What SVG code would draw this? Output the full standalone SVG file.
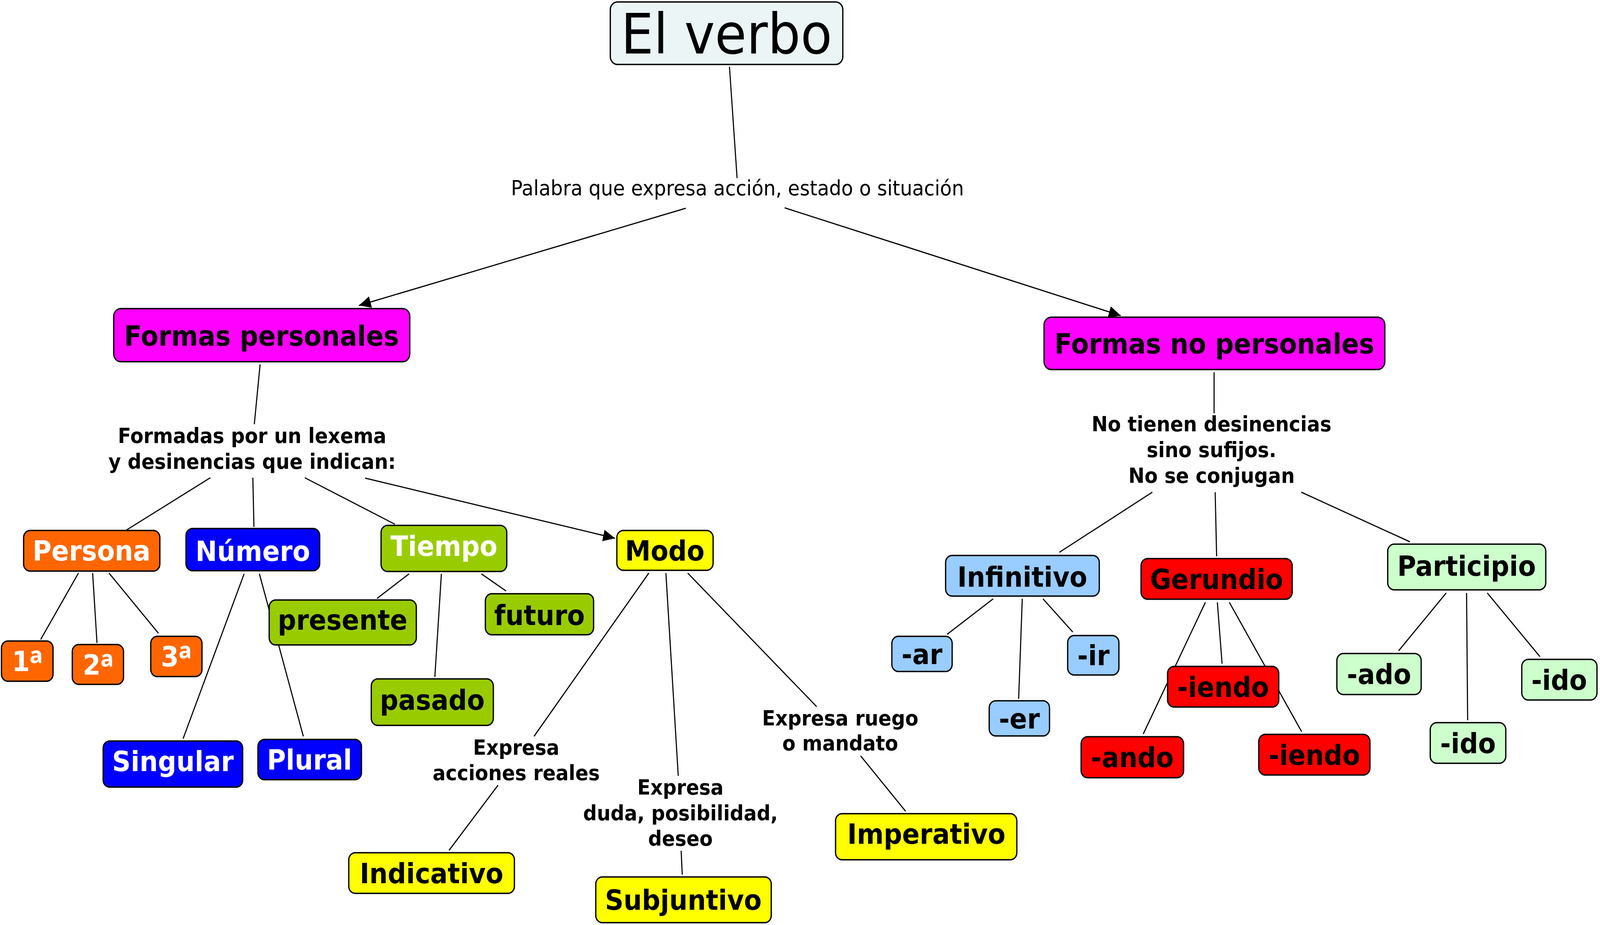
<svg xmlns="http://www.w3.org/2000/svg" width="4399" height="2368" viewBox="0 0 4399 2368">
<style>
.n rect{stroke:#000;stroke-width:3.5}
.t{font-family:"DejaVu Sans",Verdana,sans-serif;font-weight:bold;font-size:71px;text-anchor:middle}
.o{font-family:"Open Sans","Noto Sans","DejaVu Sans",sans-serif;font-weight:bold;font-size:92px}
.w{fill:#fff}
.k{fill:#000}
.lb{font-family:"DejaVu Sans",Verdana,sans-serif;font-weight:bold;font-size:53px;text-anchor:middle;fill:#000}
.lr{font-family:"DejaVu Sans",Verdana,sans-serif;font-size:53px;text-anchor:middle;fill:#000}
#connectors line{stroke:#000;stroke-width:3;fill:none}
.or{fill:#ff6600}.bl{fill:#0000ff}.gr{fill:#99cc00}.ye{fill:#ffff00}.mg{fill:#ff00ff}.lbu{fill:#99ccff}.rd{fill:#ff0000}.lg{fill:#ccffcc}
</style>
<defs>
<marker id="arr" markerUnits="userSpaceOnUse" markerWidth="34" markerHeight="32" refX="33" refY="15" orient="auto">
<path d="M0,0 L33,15 L0,30 Z" fill="#000"/>
</marker>
</defs>
<rect width="4399" height="2368" fill="#fff"/>
<g id="diagram" transform="matrix(0.93,0,0,1,0,0)">
<g id="connectors">
<line x1="2008" y1="171" x2="2029" y2="456"/>
<line x1="1888" y1="533" x2="988" y2="782" marker-end="url(#arr)"/>
<line x1="2160" y1="532" x2="3085" y2="808" marker-end="url(#arr)"/>
<line x1="716" y1="933" x2="700" y2="1086"/>
<line x1="579" y1="1223" x2="348" y2="1357"/>
<line x1="696" y1="1223" x2="699" y2="1349"/>
<line x1="839" y1="1223" x2="1087" y2="1342"/>
<line x1="1005" y1="1224" x2="1693" y2="1378" marker-end="url(#arr)"/>
<line x1="216" y1="1467" x2="112" y2="1637"/>
<line x1="255" y1="1467" x2="267" y2="1646"/>
<line x1="300" y1="1467" x2="436" y2="1621"/>
<line x1="672" y1="1469" x2="504" y2="1891"/>
<line x1="714" y1="1469" x2="835" y2="1885"/>
<line x1="1126" y1="1469" x2="1038" y2="1532"/>
<line x1="1215" y1="1469" x2="1197" y2="1733"/>
<line x1="1325" y1="1469" x2="1393" y2="1513"/>
<line x1="1786" y1="1467" x2="1470" y2="1885"/>
<line x1="1833" y1="1467" x2="1867" y2="1986"/>
<line x1="1893" y1="1467" x2="2248" y2="1809"/>
<line x1="1371" y1="2010" x2="1236" y2="2177"/>
<line x1="1875" y1="2178" x2="1878" y2="2239"/>
<line x1="2369" y1="1935" x2="2493" y2="2077"/>
<line x1="3342" y1="953" x2="3342" y2="1058"/>
<line x1="3172" y1="1260" x2="2916" y2="1414"/>
<line x1="3345" y1="1260" x2="3349" y2="1424"/>
<line x1="3582" y1="1260" x2="3881" y2="1387"/>
<line x1="2734" y1="1533" x2="2607" y2="1624"/>
<line x1="2814" y1="1533" x2="2804" y2="1789"/>
<line x1="2871" y1="1533" x2="2953" y2="1618"/>
<line x1="3318" y1="1542" x2="3147" y2="1879"/>
<line x1="3351" y1="1542" x2="3364" y2="1699"/>
<line x1="3384" y1="1542" x2="3583" y2="1873"/>
<line x1="3981" y1="1518" x2="3850" y2="1666"/>
<line x1="4037" y1="1518" x2="4040" y2="1844"/>
<line x1="4094" y1="1518" x2="4239" y2="1681"/>
</g>
<g id="labels">
<g id="l-palabra"><text class="lr" x="2030" y="500">Palabra que expresa acción, estado o situación</text></g>
<g id="l-formadas"><text class="lb" x="694" y="1134">Formadas por un lexema</text><text class="lb" x="694" y="1200">y desinencias que indican:</text></g>
<g id="l-notienen"><text class="lb" x="3335" y="1104">No tienen desinencias</text><text class="lb" x="3335" y="1170">sino sufijos.</text><text class="lb" x="3335" y="1236">No se conjugan</text></g>
<g id="l-reales"><text class="lb" x="1421" y="1932">Expresa</text><text class="lb" x="1421" y="1997">acciones reales</text></g>
<g id="l-duda"><text class="lb" x="1873" y="2034">Expresa</text><text class="lb" x="1873" y="2100">duda, posibilidad,</text><text class="lb" x="1873" y="2165">deseo</text></g>
<g id="l-ruego"><text class="lb" x="2313" y="1857">Expresa ruego</text><text class="lb" x="2313" y="1921">o mandato</text></g>
</g>
<g id="n-verbo" class="n"><rect x="1680" y="5" width="640" height="160" rx="20" fill="#ebf5f5"/><text x="2000" y="137" font-family="DejaVu Sans, Verdana, sans-serif" font-size="142" text-anchor="middle" fill="#000">El verbo</text></g>
<g id="n-fp" class="n"><rect x="313" y="790" width="815" height="136" rx="20" class="mg"/><text class="t k" x="720" y="885">Formas personales</text></g>
<g id="n-fnp" class="n"><rect x="2874" y="812" width="938" height="134" rx="20" class="mg"/><text class="t k" x="3343" y="905">Formas no personales</text></g>
<g id="n-persona" class="n"><rect x="65" y="1358" width="375" height="104" rx="18" class="or"/><text class="t w" x="252" y="1435">Persona</text></g>
<g id="n-numero" class="n"><rect x="512" y="1353" width="368" height="108" rx="18" class="bl"/><text class="t w" x="696" y="1436">Número</text></g>
<g id="n-tiempo" class="n"><rect x="1049" y="1345" width="346" height="118" rx="18" class="gr"/><text class="t w" x="1222" y="1423">Tiempo</text></g>
<g id="n-modo" class="n"><rect x="1698" y="1358" width="265" height="102" rx="18" class="ye"/><text class="t k" x="1830" y="1435">Modo</text></g>
<g id="n-1a" class="n"><rect x="4" y="1641" width="142" height="103" rx="18" class="or"/><text class="t w" x="75" y="1718">1<tspan class="o" dy="14">ª</tspan></text></g>
<g id="n-2a" class="n"><rect x="199" y="1650" width="141" height="102" rx="18" class="or"/><text class="t w" x="270" y="1727">2<tspan class="o" dy="14">ª</tspan></text></g>
<g id="n-3a" class="n"><rect x="415" y="1629" width="141" height="103" rx="18" class="or"/><text class="t w" x="485" y="1706">3<tspan class="o" dy="14">ª</tspan></text></g>
<g id="n-singular" class="n"><rect x="284" y="1897" width="384" height="118" rx="18" class="bl"/><text class="t w" x="476" y="1974">Singular</text></g>
<g id="n-plural" class="n"><rect x="710" y="1893" width="285" height="103" rx="18" class="bl"/><text class="t w" x="852" y="1970">Plural</text></g>
<g id="n-presente" class="n"><rect x="741" y="1536" width="405" height="115" rx="18" class="gr"/><text class="t k" x="943" y="1612">presente</text></g>
<g id="n-futuro" class="n"><rect x="1336" y="1520" width="298" height="105" rx="18" class="gr"/><text class="t k" x="1485" y="1600">futuro</text></g>
<g id="n-pasado" class="n"><rect x="1022" y="1738" width="336" height="119" rx="18" class="gr"/><text class="t k" x="1190" y="1817">pasado</text></g>
<g id="n-indicativo" class="n"><rect x="960" y="2183" width="456" height="104" rx="18" class="ye"/><text class="t k" x="1188" y="2261">Indicativo</text></g>
<g id="n-subjuntivo" class="n"><rect x="1640" y="2245" width="483" height="117" rx="18" class="ye"/><text class="t k" x="1881" y="2329">Subjuntivo</text></g>
<g id="n-imperativo" class="n"><rect x="2300" y="2083" width="499" height="118" rx="18" class="ye"/><text class="t k" x="2550" y="2160">Imperativo</text></g>
<g id="n-infinitivo" class="n"><rect x="2603" y="1422" width="423" height="104" rx="18" class="lbu"/><text class="t k" x="2814" y="1502">Infinitivo</text></g>
<g id="n-gerundio" class="n"><rect x="3141" y="1430" width="416" height="104" rx="18" class="rd"/><text class="t k" x="3349" y="1508">Gerundio</text></g>
<g id="n-participio" class="n"><rect x="3820" y="1393" width="435" height="117" rx="18" class="lg"/><text class="t k" x="4037" y="1474">Participio</text></g>
<g id="n-ar" class="n"><rect x="2455" y="1629" width="166" height="90" rx="18" class="lbu"/><text class="t k" x="2538" y="1700">-ar</text></g>
<g id="n-er" class="n"><rect x="2723" y="1794" width="166" height="90" rx="18" class="lbu"/><text class="t k" x="2806" y="1865">-er</text></g>
<g id="n-ir" class="n"><rect x="2939" y="1627" width="141" height="101" rx="18" class="lbu"/><text class="t k" x="3010" y="1703">-ir</text></g>
<g id="n-iendo1" class="n"><rect x="3214" y="1706" width="306" height="104" rx="18" class="rd"/><text class="t k" x="3367" y="1784">-iendo</text></g>
<g id="n-ando" class="n"><rect x="2976" y="1886" width="282" height="105" rx="18" class="rd"/><text class="t k" x="3117" y="1964">-ando</text></g>
<g id="n-iendo2" class="n"><rect x="3465" y="1880" width="306" height="104" rx="18" class="rd"/><text class="t k" x="3618" y="1958">-iendo</text></g>
<g id="n-ado" class="n"><rect x="3680" y="1673" width="232" height="105" rx="18" class="lg"/><text class="t k" x="3796" y="1751">-ado</text></g>
<g id="n-ido1" class="n"><rect x="4189" y="1688" width="207" height="104" rx="18" class="lg"/><text class="t k" x="4292" y="1766">-ido</text></g>
<g id="n-ido2" class="n"><rect x="3937" y="1850" width="208" height="104" rx="18" class="lg"/><text class="t k" x="4041" y="1928">-ido</text></g>
</g>
</svg>
